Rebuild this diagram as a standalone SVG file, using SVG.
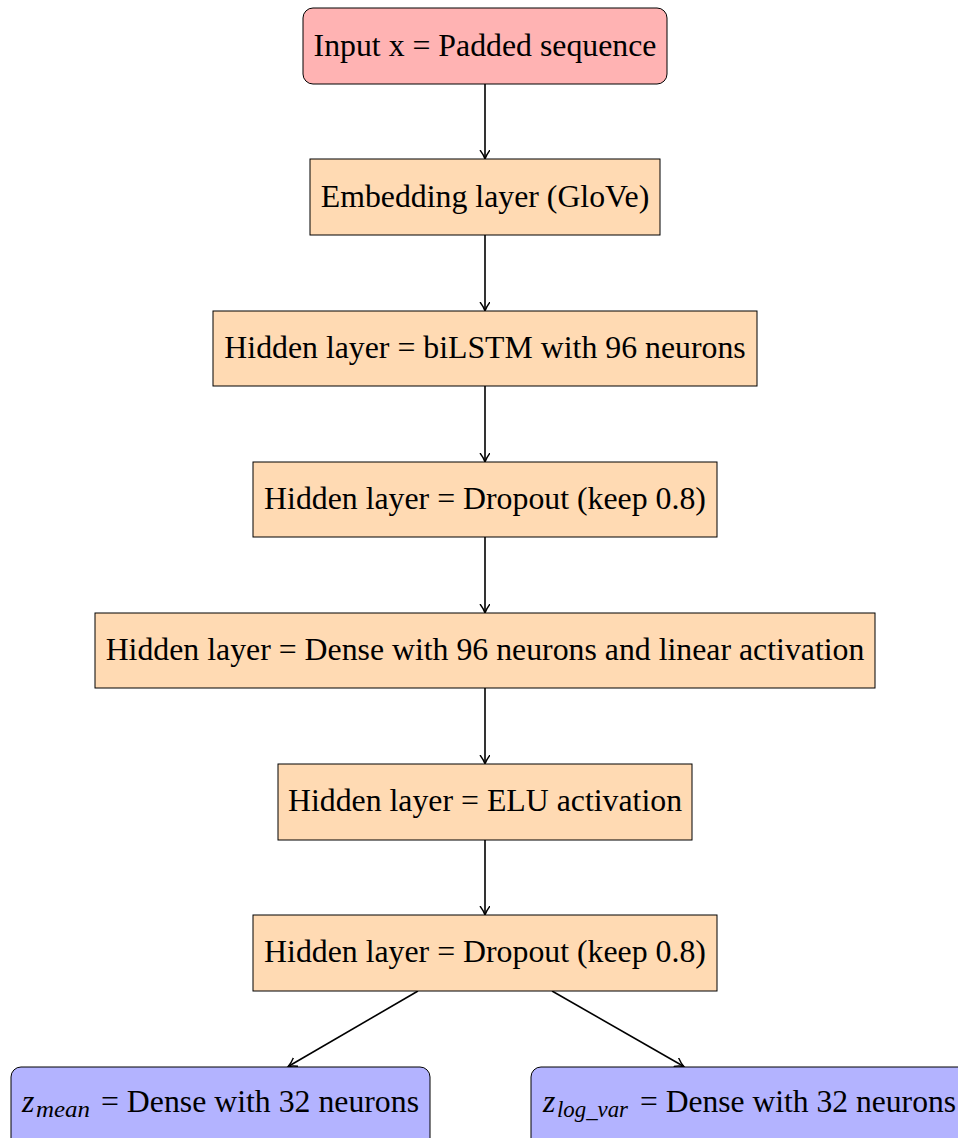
<svg xmlns="http://www.w3.org/2000/svg" width="958" height="1138" viewBox="0 0 958 1138">
<style>
.t{font-family:"Liberation Serif","Times New Roman",serif;font-size:31.8px;fill:#000;text-anchor:middle}
.s{font-family:"Liberation Serif","Times New Roman",serif;font-size:31.8px;fill:#000}
.m{font-style:italic}
.sub{font-family:"Liberation Serif","Times New Roman",serif;font-size:23px;font-style:italic;fill:#000}
.in{fill:#FFB3B3;stroke:#000;stroke-width:1}
.hid{fill:#FFDAB3;stroke:#000;stroke-width:1}
.out{fill:#B3B3FF;stroke:#000;stroke-width:1}
.c{stroke:#000;stroke-width:1.6;fill:none;marker-end:url(#ah)}
</style>
<defs>
<marker id="ah" markerWidth="12" markerHeight="12" refX="8" refY="5" orient="auto" markerUnits="userSpaceOnUse">
<path d="M0,0 Q5,3.8 9,5 Q5,6.2 0,10" fill="none" stroke="#000" stroke-width="1.4"/>
</marker>
</defs>
<rect width="958" height="1138" fill="#fff"/>
<g id="connectors">
<line class="c" x1="485" y1="84" x2="485" y2="158"/>
<line class="c" x1="485" y1="235" x2="485" y2="310"/>
<line class="c" x1="485" y1="386" x2="485" y2="461"/>
<line class="c" x1="485" y1="537" x2="485" y2="612"/>
<line class="c" x1="485" y1="688" x2="485" y2="763"/>
<line class="c" x1="485" y1="840" x2="485" y2="914"/>
<line class="c" x1="418" y1="991" x2="289" y2="1066"/>
<line class="c" x1="552" y1="991" x2="683" y2="1066"/>
</g>
<g id="input"><rect class="in" x="303" y="8" width="364" height="76" rx="10"/><text class="t" x="485" y="56">Input x = Padded sequence</text></g>
<g id="embedding"><rect class="hid" x="310" y="159" width="350" height="76"/><text class="t" x="485" y="207">Embedding layer (GloVe)</text></g>
<g id="bilstm"><rect class="hid" x="213" y="311" width="544" height="75"/><text class="t" x="485" y="358">Hidden layer = biLSTM with 96 neurons</text></g>
<g id="dropout1"><rect class="hid" x="253" y="462" width="464" height="75"/><text class="t" x="485" y="509">Hidden layer = Dropout (keep 0.8)</text></g>
<g id="dense"><rect class="hid" x="95" y="613" width="780" height="75"/><text class="t" x="485" y="660">Hidden layer = Dense with 96 neurons and linear activation</text></g>
<g id="elu"><rect class="hid" x="278" y="764" width="414" height="76"/><text class="t" x="485" y="811">Hidden layer = ELU activation</text></g>
<g id="dropout2"><rect class="hid" x="253" y="915" width="464" height="76"/><text class="t" x="485" y="962">Hidden layer = Dropout (keep 0.8)</text></g>
<g id="zmean"><rect class="out" x="11" y="1067" width="419" height="90" rx="10"/><text class="s m" x="22" y="1112">z</text><text class="sub" x="36" y="1117" textLength="54" lengthAdjust="spacingAndGlyphs">mean</text><text class="s" x="101" y="1112" textLength="318" lengthAdjust="spacingAndGlyphs">= Dense with 32 neurons</text></g>
<g id="zlogvar"><rect class="out" x="531" y="1067" width="440" height="90" rx="10"/><text class="s m" x="543" y="1112">z</text><text class="sub" x="557" y="1117" textLength="71" lengthAdjust="spacingAndGlyphs">log_var</text><text class="s" x="640" y="1112" textLength="316" lengthAdjust="spacingAndGlyphs">= Dense with 32 neurons</text></g>
</svg>
